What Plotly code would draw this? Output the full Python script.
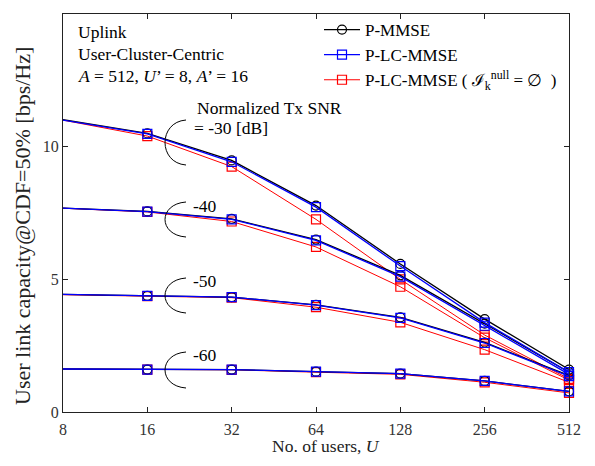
import plotly.graph_objects as go

users = [8, 16, 32, 64, 128, 256, 512]
snr_labels = ["-30", "-40", "-50", "-60"]

p_mmse = {
    "-30": [11.02, 10.50, 9.48, 7.78, 5.58, 3.50, 1.60],
    "-40": [7.68, 7.56, 7.28, 6.50, 5.15, 3.33, 1.50],
    "-50": [4.43, 4.38, 4.33, 4.04, 3.57, 2.62, 1.38],
    "-60": [1.62, 1.60, 1.60, 1.52, 1.45, 1.17, 0.78],
}
p_lc_mmse = {
    "-30": [11.00, 10.48, 9.43, 7.72, 5.50, 3.37, 1.50],
    "-40": [7.68, 7.55, 7.26, 6.47, 5.10, 3.25, 1.42],
    "-50": [4.43, 4.38, 4.33, 4.03, 3.55, 2.60, 1.35],
    "-60": [1.62, 1.60, 1.60, 1.52, 1.45, 1.17, 0.78],
}
p_lc_mmse_null = {
    "-30": [11.00, 10.40, 9.25, 7.26, 5.00, 2.90, 1.25],
    "-40": [7.68, 7.54, 7.18, 6.22, 4.72, 2.80, 1.20],
    "-50": [4.42, 4.37, 4.31, 3.95, 3.38, 2.35, 1.12],
    "-60": [1.62, 1.60, 1.59, 1.50, 1.42, 1.12, 0.72],
}
x_ticks = [8, 16, 32, 64, 128, 256, 512]
y_ticks = [0, 5, 10, 15]

FONT = "Liberation Serif, Times New Roman, Times, serif"
OFF = 8  # default page body margin
W, H = 595 - 2 * OFF, 466 - 2 * OFF
# plot area in page pixels: left 63, right 569, top 14, bottom 412
L, T = 63 - OFF, 14 - OFF
R = W - (569 - OFF)
B = H - (412 - OFF)
PW, PH = W - L - R, H - T - B

fig = go.Figure()

series = [
    ("P-MMSE", p_mmse, "black", "circle-open", 1.3, 2),
    ("P-LC-MMSE", p_lc_mmse, "#0000ff", "square-open", 1.3, 3),
    ("P-LC-MMSE ( ℐ<sub>k</sub><sup>null</sup> = ∅  )", p_lc_mmse_null, "#ff0000", "square-open", 1.0, 4),
]
order = [2, 0, 1]
for idx in order:
    name, data, color, sym, lw, rank = series[idx]
    for j, s in enumerate(snr_labels):
        fig.add_trace(go.Scatter(
            x=users, y=data[s], mode="lines+markers", name=name,
            legendgroup=name, showlegend=(j == 0), legendrank=rank,
            line=dict(color=color, width=lw),
            marker=dict(symbol=sym, size=9, color=color, line=dict(color=color, width=1.2)),
            cliponaxis=False,
        ))

def px2paper(px, py):
    # page pixel -> paper coords
    return (px - OFF - L) / PW, (H - B - (py - OFF)) / PH

# bracket arcs (page pixel geometry -> paper)
arcs = [(120, 165), (202, 237), (278, 313), (352, 388)]
for top, bot in arcs:
    xe, xc = 186, 158
    x0, y0 = px2paper(xe, top)
    x1, y1 = px2paper(xc, top + 2)
    x2, y2 = px2paper(xc, bot - 2)
    x3, y3 = px2paper(xe, bot)
    fig.add_shape(type="path", xref="paper", yref="paper",
                  path=f"M {x0},{y0} C {x1},{y1} {x2},{y2} {x3},{y3}",
                  line=dict(color="black", width=1))

def ann(text, px, py, size=17.5, color="black", xanchor="left", angle=0):
    x, y = px2paper(px, py)
    fig.add_annotation(text=text, x=x, y=y, xref="paper", yref="paper",
                       showarrow=False, xanchor=xanchor, yanchor="middle",
                       textangle=angle,
                       font=dict(family=FONT, size=size, color=color))

ann("Normalized Tx SNR", 195, 108)
ann("= -30 [dB]", 192, 128)
ann("-40", 191, 206)
ann("-50", 191, 281)
ann("-60", 191, 355)
ann("Uplink", 76, 32)
ann("User-Cluster-Centric", 76, 54)
ann("<i>A</i> = 512, <i>U</i>’ = 8, <i>A</i>’ = 16", 76, 76)
# axis titles
ann("User link capacity@CDF=50% [bps/Hz]", 22, 226, size=22, color="#222",
    xanchor="center", angle=-90)
ann("No. of users, <i>U</i>", 326, 446, size=17.5, color="#222", xanchor="center")

axis_common = dict(showline=True, linecolor="#222", linewidth=1.2, mirror="ticks",
                   ticks="inside", ticklen=5, tickcolor="#222", showgrid=False,
                   zeroline=False, automargin=False,
                   tickfont=dict(family=FONT, size=16, color="#333"))

lx, ly = px2paper(319, 12)
fig.update_layout(
    width=W, height=H,
    margin=dict(l=L, r=R, t=T, b=B, autoexpand=False),
    paper_bgcolor="white", plot_bgcolor="white",
    font=dict(family=FONT, size=17, color="black"),
    xaxis=dict(type="log", range=[0.90309, 2.70927], tickvals=x_ticks,
               ticktext=[str(v) for v in x_ticks], ticklabelstandoff=3,
               **axis_common),
    yaxis=dict(range=[0, 15], tickvals=y_ticks, **axis_common),
    legend=dict(x=lx, y=ly, xanchor="left", yanchor="top",
                bgcolor="rgba(0,0,0,0)", borderwidth=0,
                font=dict(family=FONT, size=17), tracegroupgap=0,
                itemwidth=36),
    showlegend=True,
)

fig.write_html("out.html")
